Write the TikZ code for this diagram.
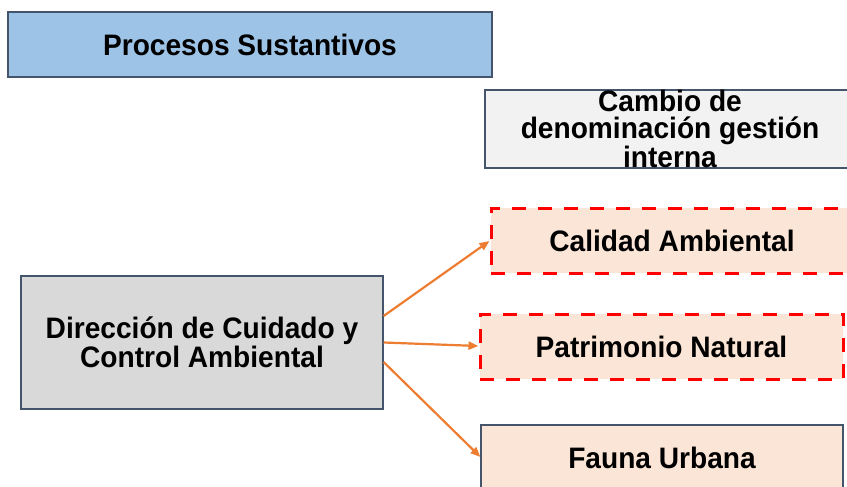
\documentclass[tikz,border=0pt]{standalone}
\usepackage{fontspec}
\setmainfont{Liberation Sans}[FakeStretch=0.95]
\usetikzlibrary{arrows.meta}
\definecolor{bluefill}{HTML}{9DC3E6}
\definecolor{grayfill}{HTML}{F2F2F2}
\definecolor{peach}{HTML}{FBE5D6}
\definecolor{midgray}{HTML}{D9D9D9}
\definecolor{edge}{HTML}{44546A}
\definecolor{orangeline}{HTML}{ED7D31}
\tikzset{
  box/.style={rectangle, draw=edge, line width=1.2pt, align=center, inner sep=0pt,
    font=\bfseries\fontsize{29.6}{27}\selectfont, text=black},
  reddash/.style={box, draw=red, line width=3pt, dash pattern=on 14pt off 12pt},
  conn/.style={draw=orangeline, line width=2.2pt, -{Triangle[length=10pt,width=8pt]}}
}
\begin{document}
\begin{tikzpicture}[x=1pt,y=-1pt]
\clip (0,0) rectangle (847,487);
\fill[white] (0,0) rectangle (847,487);
\node[box, fill=bluefill, minimum width=484pt, minimum height=65pt] (proc) at (250,44.5) {Procesos Sustantivos};
\node[box, fill=grayfill, minimum width=370pt, minimum height=78pt] (camb) at (670,129) {Cambio de\\denominación gestión\\interna};
\node[reddash, fill=peach, minimum width=362pt, minimum height=65pt] (cal) at (672,240.5) {Calidad Ambiental};
\node[reddash, fill=peach, minimum width=363pt, minimum height=65pt] (pat) at (661.5,346.5) {Patrimonio Natural};
\node[box, fill=peach, minimum width=362pt, minimum height=66pt] (fau) at (662,458) {Fauna Urbana};
\node[box, fill=midgray, minimum width=362pt, minimum height=133pt] (dir) at (202,342.5) {Dirección de Cuidado y\\Control Ambiental};
\draw[conn] ([yshift=26.5pt]dir.east) -- ([yshift=-0.5pt]cal.west);
\draw[conn] (dir.east) -- ([yshift=0.5pt]pat.west);
\draw[conn] ([yshift=-19.5pt]dir.east) -- ([yshift=1pt]fau.west);
\end{tikzpicture}
\end{document}
